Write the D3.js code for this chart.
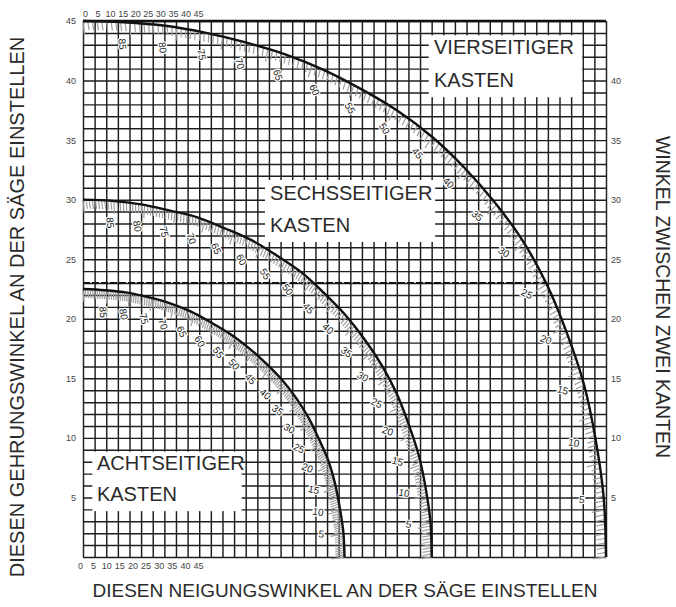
<!DOCTYPE html>
<html>
<head>
<meta charset="utf-8">
<script src="https://cdn.jsdelivr.net/npm/d3@7"></script>
<style>
  body { margin: 0; background: #fff; }
  svg { display: block; font-family: 'Liberation Sans', Arial, sans-serif; }
</style>
</head>
<body>
<div id="chart"></div>
<script>
'use strict';

// slope of the box sides, as printed along every curve (90 = flat frame, 0 = upright sides)
var slopeLabels = [90, 85, 80, 75, 70, 65, 60, 55, 50, 45, 40, 35, 30, 25, 20, 15, 10, 5, 0];

// saw tilt (x) and miter (y) at the slope labels above
var fourBevel = [0, 3.5, 7.1, 10.6, 14.0, 17.4, 20.7, 23.9, 27.0, 30.0, 32.8, 35.4, 37.8, 39.9, 41.6, 43.1, 44.1, 44.8, 45];
var fourMiter = [45, 44.9, 44.6, 44.0, 43.2, 42.2, 40.9, 39.3, 37.5, 35.3, 32.7, 29.8, 26.6, 22.9, 18.9, 14.5, 9.9, 5.0, 0];

var sixBevel = [0, 2.5, 5.0, 7.4, 9.9, 12.2, 14.5, 16.7, 18.8, 20.7, 22.5, 24.2, 25.7, 27.0, 28.0, 28.9, 29.5, 29.9, 30];
var sixMiter = [30, 29.9, 29.6, 29.1, 28.5, 27.6, 26.6, 25.3, 23.9, 22.2, 20.4, 18.3, 16.1, 13.7, 11.2, 8.5, 5.7, 2.9, 0];

var eightBevel = [0, 1.9, 3.8, 5.7, 7.5, 9.3, 11.0, 12.7, 14.2, 15.7, 17.1, 18.3, 19.4, 20.3, 21.1, 21.7, 22.1, 22.4, 22.5];
var eightMiter = [22.5, 22.4, 22.2, 21.8, 21.3, 20.6, 19.7, 18.7, 17.6, 16.3, 14.9, 13.4, 11.7, 9.9, 8.1, 6.1, 4.1, 2.1, 0];

// dashed reference line
var dashedMiter = 23;
var dashedBevelEnd = 39.8;

// tick labels
var leftTicks = [5, 10, 15, 20, 25, 30, 35, 40, 45];
var rightTicks = [5, 10, 15, 20, 25, 30, 35, 40];
var miniTicks = [0, 5, 10, 15, 20, 25, 30, 35, 40, 45];

// box names
var boxNames = [['VIERSEITIGER', 'KASTEN'], ['SECHSSEITIGER', 'KASTEN'], ['ACHTSEITIGER', 'KASTEN']];

var curves = [
  {bevel: fourBevel, miter: fourMiter},
  {bevel: sixBevel, miter: sixMiter},
  {bevel: eightBevel, miter: eightMiter}
];

var W = 676, H = 607;

var x = d3.scaleLinear().domain([0, 45]).range([83, 606]);
var y = d3.scaleLinear().domain([0, 45]).range([557, 21]);

var svg = d3.select('#chart').append('svg')
  .attr('width', W)
  .attr('height', H);

// ---- grid -------------------------------------------------------------
var grid = svg.append('g').attr('class', 'grid');
grid.append('g')
  .attr('transform', 'translate(0,' + y(0) + ')')
  .call(d3.axisBottom(x).tickValues(d3.range(0, 46)).tickSize(-(y(0) - y(45))).tickFormat(''));
grid.append('g')
  .attr('transform', 'translate(' + x(0) + ',0)')
  .call(d3.axisLeft(y).tickValues(d3.range(0, 46)).tickSize(-(x(45) - x(0))).tickFormat(''));
grid.selectAll('.domain').remove();
grid.selectAll('line').attr('stroke', '#1e1e1e').attr('stroke-width', 1.45);

svg.append('line')
  .attr('x1', x(0)).attr('x2', x(45))
  .attr('y1', y(45)).attr('y2', y(45))
  .attr('stroke', '#111').attr('stroke-width', 2.6);

// ---- white name boxes (grid units, the grid stubs stay visible) --------
var boxLayout = [
  {x0: 29.75, x1: 42.95, y0: 38.6, y1: 43.8, tx: 30.2, ty: [42.2, 39.5]},
  {x0: 15.66, x1: 30.3, y0: 26.45, y1: 31.65, tx: 16.1, ty: [30.0, 27.3]},
  {x0: 0.8, x1: 13.65, y0: 3.85, y1: 8.85, tx: 1.2, ty: [7.3, 4.7]}
];

var boxes = svg.append('g').attr('class', 'boxes');
boxLayout.forEach(function(b, i) {
  boxes.append('rect')
    .attr('x', x(b.x0))
    .attr('y', y(b.y1))
    .attr('width', x(b.x1) - x(b.x0))
    .attr('height', y(b.y0) - y(b.y1))
    .attr('fill', '#fff');
  boxNames[i].forEach(function(line, j) {
    boxes.append('text')
      .attr('x', x(b.tx))
      .attr('y', y(b.ty[j]))
      .attr('font-size', 20)
      .attr('fill', '#2a2a2a')
      .text(line);
  });
});

// ---- dashed line -------------------------------------------------------
svg.append('line')
  .attr('x1', x(0)).attr('x2', x(dashedBevelEnd))
  .attr('y1', y(dashedMiter)).attr('y2', y(dashedMiter))
  .attr('stroke', '#111')
  .attr('stroke-width', 2)
  .attr('stroke-dasharray', '7,2');

// ---- curves, hatching, slope labels -------------------------------------
var line = d3.line()
  .x(function(d) { return x(d.b); })
  .y(function(d) { return y(d.m); })
  .curve(d3.curveCatmullRom);

var ox = x(0), oy = y(0);

curves.forEach(function(c) {
  var pts = c.bevel.map(function(b, i) { return {b: b, m: c.miter[i], s: slopeLabels[i]}; });

  var path = svg.append('path')
    .datum(pts)
    .attr('d', line)
    .attr('fill', 'none')
    .attr('stroke', 'none');

  // hatching on the inner side of the curve
  var node = path.node();
  var len = node.getTotalLength();
  var n = 180;
  var hatch = svg.append('g').attr('class', 'hatch');
  for (var i = 0; i <= n; i++) {
    var p = node.getPointAtLength(len * i / n);
    var q = node.getPointAtLength(Math.min(len, len * i / n + 0.5));
    var r = node.getPointAtLength(Math.max(0, len * i / n - 0.5));
    var tx = q.x - r.x, ty = q.y - r.y;
    var tl = Math.sqrt(tx * tx + ty * ty) || 1;
    var nx = -ty / tl, ny = tx / tl;
    if ((ox - p.x) * nx + (oy - p.y) * ny < 0) { nx = -nx; ny = -ny; }
    var l = i % 10 === 0 ? 13 : 9;
    hatch.append('line')
      .attr('x1', p.x).attr('y1', p.y)
      .attr('x2', p.x + nx * l + tx / tl * 1.5).attr('y2', p.y + ny * l + ty / tl * 1.5)
      .attr('stroke', '#a0a0a0')
      .attr('stroke-width', 1.2);
  }

  svg.append('path')
    .datum(pts)
    .attr('d', line)
    .attr('fill', 'none')
    .attr('stroke', '#111')
    .attr('stroke-width', 2.4);

  // slope labels, set on the inner side; they turn from reading downwards
  // at the top of a curve to reading across at its foot
  var labels = svg.append('g').attr('class', 'slope-labels');
  pts.forEach(function(d, i) {
    if (i === 0 || i === pts.length - 1) { return; }
    var a = pts[i - 1], b = pts[i + 1];
    var tx = x(b.b) - x(a.b), ty = y(b.m) - y(a.m);
    var tl = Math.sqrt(tx * tx + ty * ty);
    var nx = -ty / tl, ny = tx / tl;
    var px = x(d.b), py = y(d.m);
    if ((ox - px) * nx + (oy - py) * ny < 0) { nx = -nx; ny = -ny; }
    var lx = px + nx * 22, ly = py + ny * 22;
    var ang = Math.atan2(ny, -nx) * 180 / Math.PI;
    labels.append('text')
      .attr('transform', 'translate(' + lx + ',' + ly + ') rotate(' + ang + ')')
      .attr('text-anchor', 'middle')
      .attr('dy', '0.35em')
      .attr('font-size', 10)
      .attr('fill', '#222')
      .attr('stroke', '#fff')
      .attr('stroke-width', 2.5)
      .attr('paint-order', 'stroke')
      .text(d.s);
  });
});

// ---- axes ---------------------------------------------------------------
function styleAxis(g) {
  g.select('.domain').remove();
  g.selectAll('text').attr('font-size', 9).attr('fill', '#444')
    .attr('font-family', "'Liberation Sans', Arial, sans-serif");
}

svg.append('g')
  .attr('transform', 'translate(' + x(0) + ',0)')
  .call(d3.axisLeft(y).tickValues(leftTicks).tickSize(0).tickPadding(7))
  .call(styleAxis);

svg.append('g')
  .attr('transform', 'translate(' + x(45) + ',0)')
  .call(d3.axisRight(y).tickValues(rightTicks).tickSize(0).tickPadding(5))
  .call(styleAxis);

var miniTop = d3.scaleLinear().domain([0, 45]).range([85, 198]);
var miniBottom = d3.scaleLinear().domain([0, 45]).range([80, 198]);

svg.append('g')
  .attr('transform', 'translate(0,' + y(45) + ')')
  .call(d3.axisTop(miniTop).tickValues(miniTicks).tickSize(0).tickPadding(4))
  .call(styleAxis);

svg.append('g')
  .attr('transform', 'translate(0,' + y(0) + ')')
  .call(d3.axisBottom(miniBottom).tickValues(miniTicks).tickSize(0).tickPadding(6))
  .call(styleAxis);

// ---- titles -------------------------------------------------------------
svg.append('text')
  .attr('transform', 'translate(24,307) rotate(-90)')
  .attr('text-anchor', 'middle')
  .attr('font-size', 20)
  .attr('fill', '#2a2a2a')
  .text('DIESEN GEHRUNGSWINKEL AN DER SÄGE EINSTELLEN');

svg.append('text')
  .attr('transform', 'translate(656,297) rotate(90)')
  .attr('text-anchor', 'middle')
  .attr('font-size', 19.5)
  .attr('fill', '#2a2a2a')
  .text('WINKEL ZWISCHEN ZWEI KANTEN');

svg.append('text')
  .attr('x', 345)
  .attr('y', 597)
  .attr('text-anchor', 'middle')
  .attr('font-size', 19)
  .attr('fill', '#2a2a2a')
  .text('DIESEN NEIGUNGSWINKEL AN DER SÄGE EINSTELLEN');
</script>
</body>
</html>
